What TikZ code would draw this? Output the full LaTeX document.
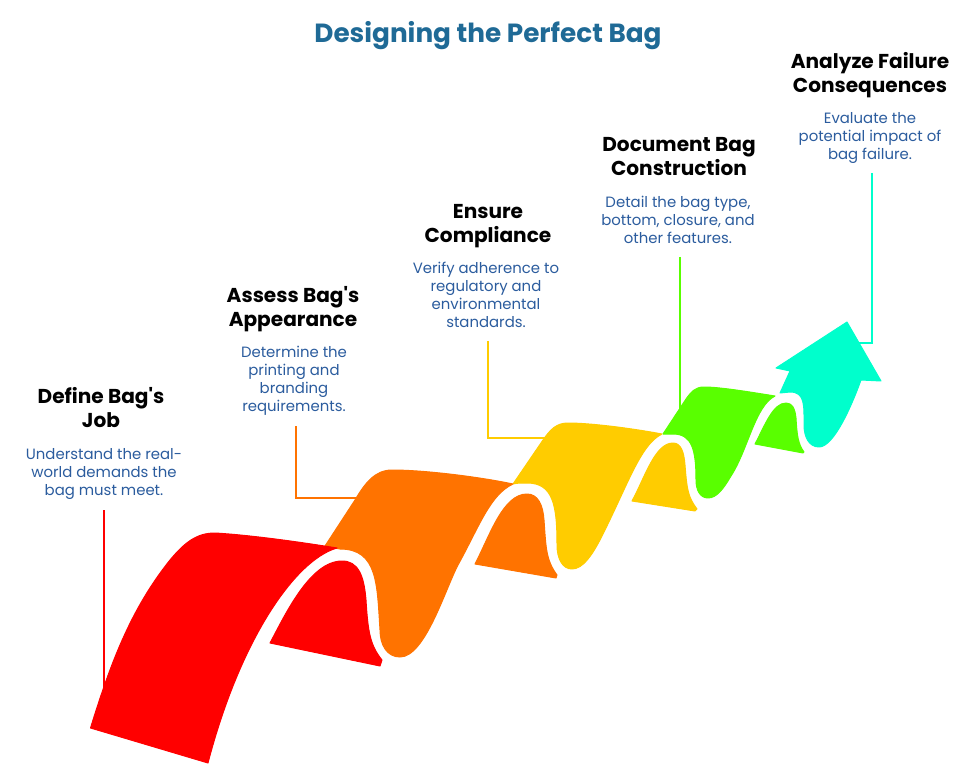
\documentclass[tikz,border=0pt]{standalone}
\usepackage{fontspec}
\setmainfont{Poppins}
\definecolor{cred}{HTML}{FF0000}
\definecolor{corange}{HTML}{FF7300}
\definecolor{cyellow}{HTML}{FFCC00}
\definecolor{cgreen}{HTML}{59FF00}
\definecolor{cteal}{HTML}{00FFCC}
\definecolor{ctitle}{HTML}{1F6A96}
\definecolor{cdesc}{HTML}{2B5C9E}
\tikzset{
  px/.style={x=1pt,y=-1pt},
  ribbon/.style={line width=1pt,line join=round},
  link/.style={line width=2pt,line join=miter},
  headtext/.style={align=center,inner sep=0pt,text=black,font=\fontsize{20.1}{24}\selectfont\bfseries},
  desctext/.style={align=center,inner sep=0pt,text=cdesc,font=\fontsize{14.9}{18}\selectfont},
  titletext/.style={inner sep=0pt,text=ctitle,font=\fontsize{26.3}{30}\selectfont\bfseries},
}
\begin{document}
\begin{tikzpicture}[px]
\useasboundingbox (0,0) rectangle (980,767);
\fill[white] (0,0) rectangle (980,767);
% named connector ends
\coordinate (r0) at (103.5,510);
\coordinate (r1) at (103.5,695);
\coordinate (o0) at (296,426);
\coordinate (o1) at (358,498);
\coordinate (y0) at (488,341);
\coordinate (y1) at (546,438);
\coordinate (g0) at (680,257);
\coordinate (g1) at (680,410);
\coordinate (t0) at (871.5,173);
\coordinate (t1) at (858,343);
\draw[link,cred] (r0) -- (r1);
\draw[link,corange] (o0) |- (o1);
\draw[link,cyellow] (y0) |- (y1);
\draw[link,cgreen] (g0) -- (g1);
\draw[link,cteal] (t0) |- (t1);
% teal arrow
\filldraw[ribbon,cteal] (780,393) -- (790,371) -- (776,368) -- (847,322) -- (881,381) -- (861,380)
  .. controls (852,405) and (834,447) .. (819,447)
  .. controls (809,447) and (804,437) .. (804,425)
  .. controls (804,405) and (805,392) .. (790,392) -- cycle;
% green back
\filldraw[ribbon,cgreen] (755,444) .. controls (765,425) and (773,403) .. (786,403)
  .. controls (792,403) and (795,408) .. (796,418)
  .. controls (797,435) and (798,444) .. (804,452) -- (803,453) -- cycle;
% green front
\filldraw[ribbon,cgreen] (663,434) -- (686,399) .. controls (691,392) and (695,387) .. (704,387)
  .. controls (720,387) and (750,392) .. (775,396)
  .. controls (755,406) and (748,450) .. (731,476)
  .. controls (724,488) and (717,498) .. (708,498)
  .. controls (700,498) and (696,490) .. (696,480)
  .. controls (696,450) and (692,434) .. (673,434)
  -- cycle;
% yellow back
\filldraw[ribbon,cyellow] (632,501) .. controls (645,477) and (655,443) .. (673,443)
  .. controls (681,443) and (684,452) .. (685,465)
  .. controls (687,490) and (688,497) .. (697,509) -- (695,511) -- cycle;
% yellow front
\filldraw[ribbon,cyellow] (513,484) -- (543,440) .. controls (550,430) and (556,423) .. (568,423)
  .. controls (590,423) and (630,428) .. (662,434)
  .. controls (640,445) and (628,485) .. (600,540)
  .. controls (592,555) and (583,569) .. (572,569)
  .. controls (562,569) and (557,558) .. (557,545)
  .. controls (557,505) and (553,483) .. (527,483)
  .. controls (521,483) and (517,483) .. (513,484) -- cycle;
% orange back
\filldraw[ribbon,corange] (475,564) .. controls (490,535) and (503,494) .. (527,494)
  .. controls (538,494) and (543,505) .. (544,520)
  .. controls (546,548) and (546,560) .. (557,575) -- (556,578) -- cycle;
% orange front
\filldraw[ribbon,corange] (325,546) -- (355,500) .. controls (365,483) and (375,470) .. (392,470)
  .. controls (425,470) and (480,477) .. (513,484)
  .. controls (490,495) and (480,525) .. (458,565)
  .. controls (445,590) and (425,657) .. (400,657)
  .. controls (387,657) and (380,645) .. (380,630)
  .. controls (377,585) and (378,549) .. (340,549)
  -- cycle;
% red back
\filldraw[ribbon,cred] (270,643) .. controls (285,615) and (310,561) .. (342,561)
  .. controls (358,561) and (364,575) .. (366,600)
  .. controls (368,632) and (370,645) .. (382,660) -- (380,666) -- cycle;
% red front
\filldraw[ribbon,cred] (90.5,728) .. controls (110,665) and (130,610) .. (170,560)
  .. controls (185,542) and (197,533) .. (215,533)
  .. controls (250,535) and (300,542) .. (337,548)
  .. controls (295,560) and (240,640) .. (208,763) -- cycle;
% text
\node[titletext] (title) at (488,36) {Designing the Perfect Bag};
\node[headtext] (h1) at (101,408) {Define Bag\textquotesingle s\\Job};
\node[desctext] (d1) at (104,474) {Understand the real-\\world demands the\\bag must meet.};
\node[headtext] (h2) at (293,309) {Assess Bag\textquotesingle s\\Appearance};
\node[desctext] (d2) at (294,381) {Determine the\\printing and\\branding\\requirements.};
\node[headtext] (h3) at (488,226) {Ensure\\Compliance};
\node[desctext] (d3) at (486,295) {Verify adherence to\\regulatory and\\environmental\\standards.};
\node[headtext] (h4) at (679,157) {Document Bag\\Construction};
\node[desctext] (d4) at (678,220) {Detail the bag type,\\bottom, closure, and\\other features.};
\node[headtext] (h5) at (870,75) {Analyze Failure\\Consequences};
\node[desctext] (d5) at (870,138) {Evaluate the\\potential impact of\\bag failure.};
\end{tikzpicture}
\end{document}
